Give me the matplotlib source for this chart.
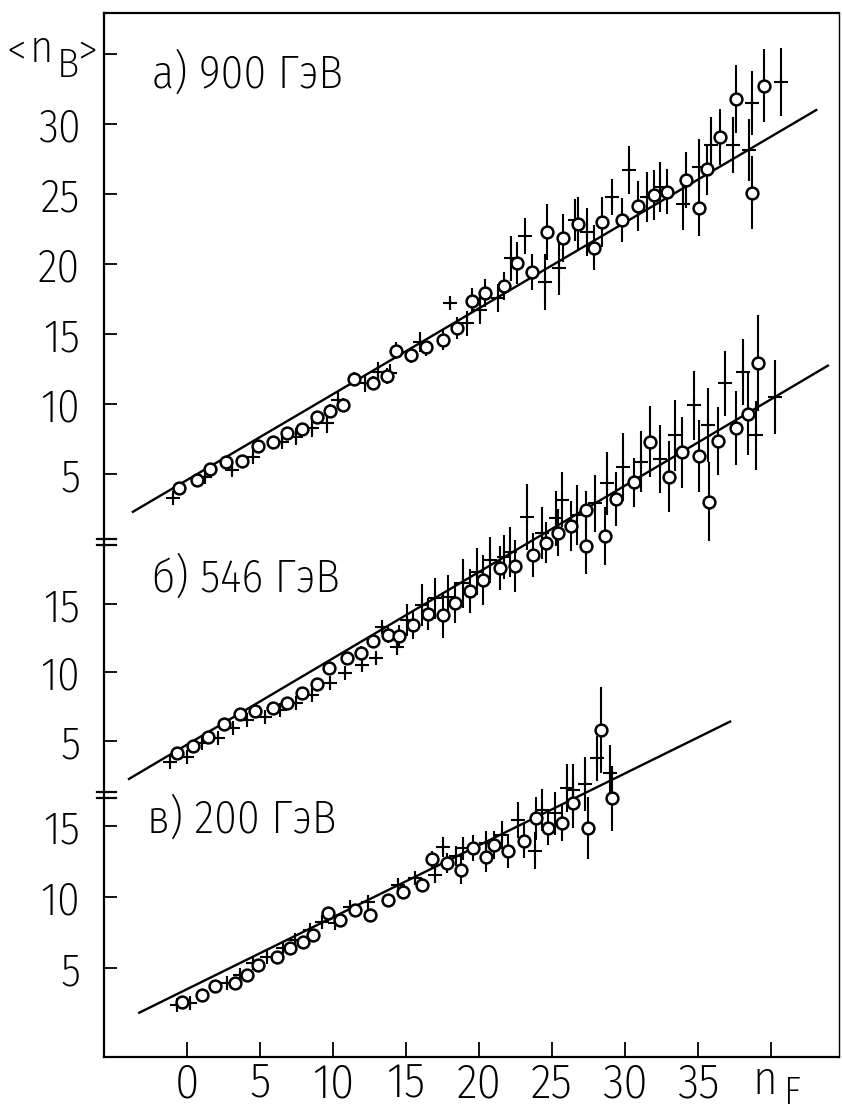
import matplotlib
matplotlib.use("Agg")
import matplotlib.pyplot as plt
from matplotlib.lines import Line2D
from matplotlib import font_manager as fm

# ---------------- data ----------------
# panel a) 900 GeV
a_circ_x = [-0.53, 0.66, 1.58, 2.65, 3.75, 4.84, 5.91, 6.87, 7.86, 8.88, 9.79, 10.7, 11.44, 12.72, 13.68,
            14.32, 15.32, 16.37, 17.55, 18.47, 19.5, 20.4, 21.7, 22.58, 23.6, 24.68, 25.78, 26.8, 27.88,
            28.4, 29.8, 30.9, 32.0, 32.86, 34.2, 35.1, 35.6, 36.5, 37.6, 38.7, 39.5]
a_circ_y = [4.02, 4.57, 5.36, 5.88, 5.93, 7.02, 7.31, 7.91, 8.19, 9.09, 9.52, 9.93, 11.76, 11.48, 12.0,
            13.81, 13.5, 14.05, 14.57, 15.41, 17.38, 17.9, 18.4, 20.05, 19.45, 22.26, 21.84, 22.86, 21.17,
            23.02, 23.14, 24.16, 24.93, 25.17, 26.0, 24.02, 26.76, 29.09, 31.79, 25.1, 32.74]
a_circ_e = [0.3, 0.3, 0.3, 0.3, 0.3, 0.4, 0.4, 0.4, 0.4, 0.4, 0.5, 0.5, 0.5, 0.5, 0.6,
            0.6, 0.6, 0.6, 0.7, 0.8, 0.9, 1.0, 1.0, 1.5, 1.3, 2.0, 1.7, 1.9, 1.6,
            1.8, 1.6, 1.8, 1.8, 1.6, 2.0, 2.0, 1.8, 2.0, 2.4, 2.6, 2.6]
a_cross_x = [-0.94, 1.23, 3.06, 4.54, 6.48, 7.44, 8.54, 9.57, 10.37, 12.19, 13.1, 13.9, 15.96, 18.0,
             19.16, 20.07, 21.3, 22.2, 23.15, 24.5, 25.5, 26.6, 27.4, 29.1, 30.3, 31.5, 32.4, 34.0,
             35.1, 35.9, 37.4, 38.5, 38.7, 40.7]
a_cross_y = [3.26, 4.81, 5.29, 6.24, 7.31, 7.67, 8.26, 8.62, 10.29, 11.48, 12.31, 12.19, 14.45, 17.19,
             15.76, 16.71, 17.55, 20.4, 22.0, 18.74, 19.7, 23.14, 22.3, 24.8, 26.7, 24.8, 25.5, 24.3,
             26.95, 28.5, 28.5, 28.14, 31.5, 33.0]
a_cross_e = [0.4, 0.3, 0.4, 0.5, 0.4, 0.6, 0.6, 0.7, 0.6, 0.6, 0.7, 0.7, 0.7, 0.5,
             0.9, 1.0, 1.0, 1.6, 1.3, 2.0, 1.9, 1.5, 1.7, 1.3, 1.7, 1.8, 1.8, 1.9,
             2.0, 2.0, 2.0, 2.2, 2.3, 2.4]
a_line_x = [-3.7, 43.1]
a_line_y = [2.3, 31.0]

# panel b) 546 GeV
b_circ_x = [-0.71, 0.43, 1.46, 2.55, 3.63, 4.66, 5.87, 6.82, 7.86, 8.88, 9.73, 10.94, 11.9, 12.76, 13.8,
            14.5, 15.46, 16.5, 17.55, 18.36, 19.4, 20.3, 21.44, 22.5, 23.7, 24.6, 25.4, 26.3, 27.3, 27.3,
            28.6, 29.4, 30.6, 31.7, 33.0, 33.9, 35.07, 35.75, 36.4, 37.6, 38.4, 39.1]
b_circ_y = [4.1, 4.63, 5.31, 6.22, 6.97, 7.21, 7.39, 7.75, 8.53, 9.16, 10.35, 11.04, 11.45, 12.3, 12.74,
            12.69, 13.47, 14.27, 14.2, 15.1, 15.97, 16.75, 17.6, 17.77, 18.58, 19.47, 20.2, 20.7, 19.2, 21.86,
            19.96, 22.66, 23.88, 26.85, 24.3, 26.07, 25.8, 22.47, 26.9, 27.87, 28.85, 32.57]
b_circ_e = [0.3, 0.3, 0.3, 0.3, 0.3, 0.3, 0.3, 0.3, 0.4, 0.4, 0.4, 0.4, 0.5, 0.5, 0.6,
            0.8, 1.0, 1.2, 1.7, 1.5, 1.6, 1.8, 1.6, 1.9, 1.6, 1.5, 1.7, 1.8, 2.0, 1.4,
            2.1, 2.0, 1.8, 2.6, 2.6, 2.6, 2.6, 2.9, 2.5, 2.7, 3.0, 3.5]
b_cross_x = [-1.16, -0.02, 1.0, 2.14, 3.13, 4.09, 5.34, 6.37, 7.5, 8.54, 9.79, 10.82, 11.96, 12.98,
             13.33, 14.36, 15.05, 16.1, 17.0, 17.9, 18.9, 19.84, 20.75, 21.7, 22.1, 23.27, 24.3, 25.3,
             25.7, 26.7, 27.96, 28.8, 29.9, 31.1, 32.4, 33.4, 34.7, 35.7, 36.85, 38.1, 39.0, 40.3]
b_cross_y = [3.49, 3.81, 4.83, 5.2, 5.93, 6.53, 6.77, 7.26, 7.75, 8.36, 9.21, 9.94, 10.55, 11.04,
             13.34, 11.88, 13.83, 14.93, 15.42, 15.53, 16.5, 17.36, 18.2, 18.45, 18.8, 21.37, 20.16, 21.25,
             22.6, 21.5, 22.35, 23.8, 25.0, 25.4, 25.6, 27.3, 29.5, 28.1, 31.1, 31.96, 27.3, 30.1]
b_cross_e = [0.3, 0.3, 0.3, 0.3, 0.3, 0.3, 0.3, 0.3, 0.3, 0.4, 0.4, 0.4, 0.4, 0.4,
             0.5, 0.6, 1.2, 1.5, 1.5, 1.6, 1.8, 1.7, 1.7, 1.6, 1.8, 2.4, 1.9, 2.0,
             2.0, 2.2, 2.1, 2.3, 2.5, 2.2, 2.5, 2.6, 2.5, 2.7, 2.4, 2.4, 2.5, 2.7]
b_line_x = [-3.97, 43.9]
b_line_y = [2.23, 32.4]

# panel c) 200 GeV
c_circ_x = [-0.36, 1.0, 1.92, 3.29, 4.09, 4.88, 6.14, 7.05, 7.97, 8.65, 9.68, 10.48, 11.5, 12.53, 13.79,
            14.8, 16.07, 16.76, 17.79, 18.8, 19.57, 20.5, 21.0, 22.0, 23.1, 23.9, 24.7, 25.7, 26.46,
            27.5, 28.36, 29.1]
c_circ_y = [2.63, 3.1, 3.73, 3.92, 4.5, 5.21, 5.8, 6.39, 6.85, 7.32, 8.85, 8.38, 9.08, 8.73, 9.79,
            10.37, 10.85, 12.65, 12.42, 11.9, 13.43, 12.84, 13.66, 13.24, 13.94, 15.54, 14.88, 15.23, 16.64,
            14.84, 21.76, 16.95]
c_circ_e = [0.2, 0.2, 0.2, 0.2, 0.2, 0.2, 0.2, 0.2, 0.2, 0.3, 0.3, 0.3, 0.3, 0.3, 0.4,
            0.4, 0.5, 0.6, 0.7, 1.0, 0.9, 1.1, 1.0, 1.2, 1.2, 1.5, 1.2, 1.3, 1.8,
            2.2, 3.0, 2.3]
c_cross_x = [-0.7, 0.2, 2.72, 3.63, 4.54, 5.46, 6.6, 7.4, 8.42, 9.23, 10.14, 11.16, 12.42, 14.47,
             15.62, 16.99, 17.55, 18.42, 18.9, 20.5, 21.55, 22.7, 23.84, 24.3, 25.2, 26.0, 26.46,
             27.26, 28.06, 28.97]
c_cross_y = [2.39, 2.51, 3.92, 4.5, 5.33, 5.8, 6.39, 6.97, 7.68, 8.26, 8.15, 9.32, 9.67, 10.85,
             11.32, 11.55, 13.54, 12.89, 13.43, 13.78, 14.37, 15.42, 13.26, 16.13, 15.89, 17.65, 17.54,
             17.96, 19.77, 18.71]
c_cross_e = [0.3, 0.3, 0.3, 0.3, 0.3, 0.3, 0.3, 0.3, 0.3, 0.3, 0.4, 0.4, 0.4, 0.5,
             0.5, 0.6, 0.7, 0.7, 0.8, 0.9, 1.0, 1.3, 1.3, 1.5, 1.5, 1.7, 1.8,
             1.9, 1.6, 2.0]
c_line_x = [-3.27, 37.2]
c_line_y = [1.85, 22.35]

x_ticks = [0, 5, 10, 15, 20, 25, 30, 35, 40]
x_ticklabels = ['0', '5', '10', '15', '20', '25', '30', '35', '']
x_name = ('n', 'F')
a_yticks = [5, 10, 15, 20, 25, 30, 35]
a_yticklabels = ['5', '10', '15', '20', '25', '30', '']
bc_yticks = [5, 10, 15]
bc_yticklabels = ['5', '10', '15']
titles = ['а) 900 ГэВ', 'б) 546 ГэВ', 'в) 200 ГэВ']
y_name = ('<', 'n', 'B', '>')

NEEDED = 'аб)0123456789ГэВвnFB<>'


# ---------------- font: prefer a narrow / light sans face covering Cyrillic ----------------
def covers(fname):
    try:
        cmap = fm.get_font(fname).get_charmap()
    except Exception:
        return False
    return all(ord(ch) in cmap for ch in NEEDED)


def pick_font():
    best, best_score = None, -1
    for f in fm.fontManager.ttflist:
        low = f.name.lower()
        if f.style != 'normal':
            continue
        if any(k in low for k in ('lato', 'mono', 'cjk', 'serif', 'display', 'math', 'symbol')):
            continue
        w = f.weight if isinstance(f.weight, int) else fm.weight_dict.get(str(f.weight), 400)
        if w > 450 or w < 250:
            continue
        st = str(f.stretch).lower()
        cond = ('condensed' in st) or ('narrow' in low) or ('condensed' in low)
        score = (4 if cond else 0) + (1 if w <= 350 else 0)
        if score <= best_score:
            continue
        if not covers(f.fname):
            continue
        best, best_score = f, score
    return best


BEST = pick_font()
if BEST is not None:
    plt.rcParams['font.family'] = [BEST.name, 'DejaVu Sans']


def fp(size):
    if BEST is not None:
        return fm.FontProperties(fname=BEST.fname, size=size)
    return fm.FontProperties(family='DejaVu Sans', size=size)


# ---------------- layout ----------------
W, H = 842, 1110
fig = plt.figure(figsize=(W / 100, H / 100), dpi=100)
fig.patch.set_facecolor('white')


def fx(px):
    return px / W


def fy(py):
    return 1 - py / H


left_px, right_px, top_px = 104, 839, 13
xlim = (-5.68, 44.66)

ax_c = fig.add_axes([fx(left_px), fy(1057), fx(right_px - left_px), (1057 - top_px) / H])
ax_b = fig.add_axes([fx(left_px), fy(797), fx(right_px - left_px), (797 - top_px) / H])
ax_a = fig.add_axes([fx(left_px), fy(542), fx(right_px - left_px), (542 - top_px) / H])

ax_c.set_ylim(-1.268, 72.25)
ax_b.set_ylim(0.912, 58.14)
ax_a.set_ylim(0.143, 37.93)

TICK_FS = 33
for ax in (ax_a, ax_b, ax_c):
    ax.set_xlim(*xlim)
    ax.patch.set_visible(False)
    ax.tick_params(axis='y', direction='in', length=9, width=1.3, pad=17)

for ax in (ax_a, ax_b):
    for s in ax.spines.values():
        s.set_visible(False)
    ax.tick_params(axis='x', bottom=False, labelbottom=False)

for s in ax_c.spines.values():
    s.set_linewidth(1.6)
ax_c.spines['right'].set_linewidth(1.0)
ax_c.set_xticks(x_ticks)
ax_c.set_xticklabels(x_ticklabels, fontproperties=fp(TICK_FS + 2))
ax_c.tick_params(axis='x', direction='in', length=11, width=1.3, pad=3)

ax_a.set_yticks(a_yticks)
ax_a.set_yticklabels(a_yticklabels, fontproperties=fp(TICK_FS))
ax_b.set_yticks(bc_yticks)
ax_b.set_yticklabels(bc_yticklabels, fontproperties=fp(TICK_FS))
ax_c.set_yticks(bc_yticks)
ax_c.set_yticklabels(bc_yticklabels, fontproperties=fp(TICK_FS))

panels = [
    (ax_a, a_circ_x, a_circ_y, a_circ_e, a_cross_x, a_cross_y, a_cross_e, a_line_x, a_line_y),
    (ax_b, b_circ_x, b_circ_y, b_circ_e, b_cross_x, b_cross_y, b_cross_e, b_line_x, b_line_y),
    (ax_c, c_circ_x, c_circ_y, c_circ_e, c_cross_x, c_cross_y, c_cross_e, c_line_x, c_line_y),
]
for ax, cx, cy, ce, px_, py_, pe, lx, ly in panels:
    ax.plot(lx, ly, color='black', lw=1.7, zorder=2)
    ax.errorbar(px_, py_, yerr=pe, fmt='+', color='black', ms=10, mew=1.5,
                elinewidth=1.5, capsize=0, zorder=3)
    ax.errorbar(cx, cy, yerr=ce, fmt='o', mfc='white', mec='black', ecolor='black',
                ms=8.5, mew=1.8, elinewidth=1.5, capsize=0, zorder=4)

# panel titles
TITLE_FS = 33
ax_a.text(-2.4, 32.6, titles[0], fontproperties=fp(TITLE_FS), ha='left', va='baseline')
ax_b.text(-2.4, 15.9, titles[1], fontproperties=fp(TITLE_FS), ha='left', va='baseline')
ax_c.text(-2.75, 14.5, titles[2], fontproperties=fp(TITLE_FS), ha='left', va='baseline')

# x-axis name  n_F
fig.text(fx(752), fy(1094), x_name[0], fontproperties=fp(34), ha='left', va='baseline')
fig.text(fx(784), fy(1104), x_name[1], fontproperties=fp(28), ha='left', va='baseline')

# y-axis name  <n_B>
fig.text(fx(6), fy(64), y_name[0], fontproperties=fp(32), ha='left', va='baseline')
fig.text(fx(30), fy(62), y_name[1], fontproperties=fp(32), ha='left', va='baseline')
fig.text(fx(57), fy(77), y_name[2], fontproperties=fp(30), ha='left', va='baseline')
fig.text(fx(77), fy(64), y_name[3], fontproperties=fp(32), ha='left', va='baseline')

# axis break marks
for yb in (539, 545, 792, 798):
    fig.add_artist(Line2D([fx(97), fx(116)], [fy(yb), fy(yb)], color='black', lw=1.6))

fig.savefig('out.png', dpi=100, facecolor='white')
